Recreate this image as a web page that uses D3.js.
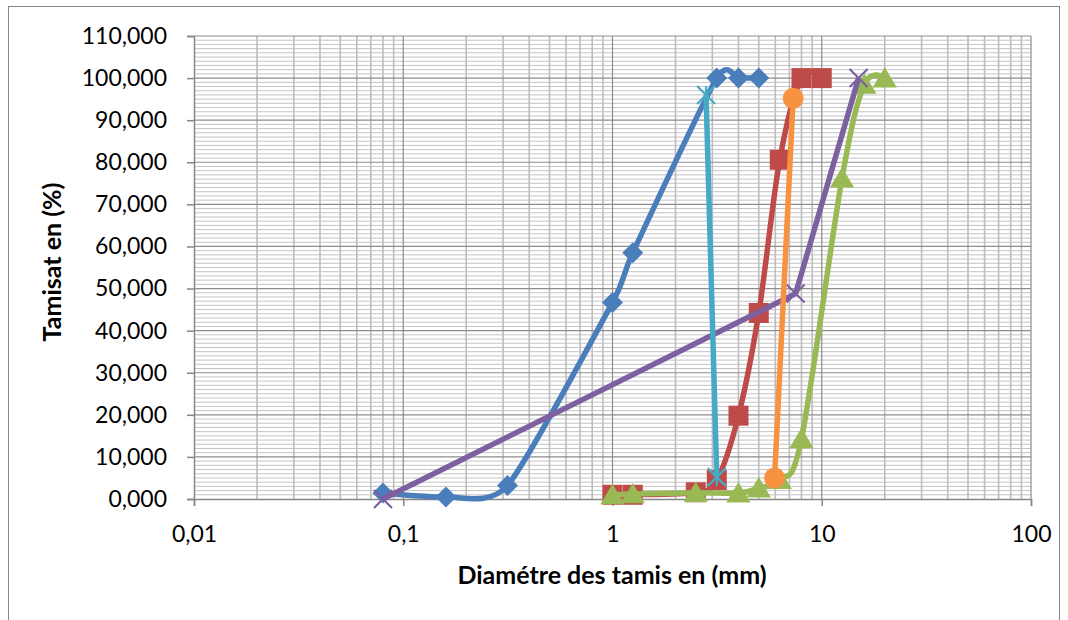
<!doctype html>
<html>
<head>
<meta charset="utf-8">
<title>Courbes granulométriques</title>
<style>
  body { margin: 0; background: #fff; }
  text { font-family: Lato, "Open Sans", sans-serif; fill: #000; }
  .axis-title { font-size: 25px; font-weight: bold; }
</style>
</head>
<body>
<div id="chart"></div>
<script src="https://d3js.org/d3.v7.min.js"></script>
<script>
// sieve sizes (mm) and passing (%) for each curve
var blueX = [0.08, 0.16, 0.315, 1, 1.25, 3.15, 4, 5];
var blueY = [1.4, 0.5, 3.2, 46.7, 58.5, 100, 100, 100];

var redX = [1, 1.25, 2.5, 3.15, 4, 5, 6.3, 8, 10];
var redY = [1.0, 1.0, 1.6, 4.5, 19.8, 44.2, 80.6, 100, 100];

var greenX = [1, 1.25, 2.5, 4, 5, 6.3, 8, 12.5, 16, 20];
var greenY = [1.0, 1.2, 1.5, 1.4, 2.6, 4.6, 14.3, 76.2, 98.5, 100];

var purpleX = [0.08, 7.5, 15];
var purpleY = [0, 48.8, 100];

var cyanX = [2.8, 3.15];
var cyanY = [96, 5.2];

var orangeX = [5.95, 7.3];
var orangeY = [5, 95.2];

var xTicks = [0.01, 0.1, 1, 10, 100];
var xTickLabels = ["0,01", "0,1", "1", "10", "100"];
var yTicks = d3.range(0, 111, 10);

var width = 1068, height = 620;
var plot = { left: 194, right: 1031, top: 36, bottom: 499 };

var x = d3.scaleLog().domain([0.01, 100]).range([plot.left, plot.right]);
var y = d3.scaleLinear().domain([0, 110]).range([plot.bottom, plot.top]);

var svg = d3.select("#chart").append("svg")
    .attr("width", width)
    .attr("height", height);

// chart border
svg.append("rect")
    .attr("x", 8.5).attr("y", 6.5)
    .attr("width", 1051).attr("height", 640)
    .attr("fill", "none")
    .attr("stroke", "#868686")
    .attr("stroke-width", 1);

// minor gridlines
var minorY = d3.range(1, 110).filter(function (v) { return v % 10 !== 0; });
svg.append("g").selectAll("line").data(minorY).enter().append("line")
    .attr("x1", plot.left).attr("x2", plot.right)
    .attr("y1", function (d) { return y(d); })
    .attr("y2", function (d) { return y(d); })
    .attr("stroke", "#c4c4c4").attr("stroke-width", 1);

var minorX = [];
[0.01, 0.1, 1, 10].forEach(function (dec) {
    for (var k = 2; k <= 9; k++) minorX.push(dec * k);
});
svg.append("g").selectAll("line").data(minorX).enter().append("line")
    .attr("x1", function (d) { return x(d); })
    .attr("x2", function (d) { return x(d); })
    .attr("y1", plot.top).attr("y2", plot.bottom)
    .attr("stroke", "#bdbdbd").attr("stroke-width", 1.6);

// major gridlines
svg.append("g").selectAll("line").data(yTicks.slice(1)).enter().append("line")
    .attr("x1", plot.left).attr("x2", plot.right)
    .attr("y1", function (d) { return y(d); })
    .attr("y2", function (d) { return y(d); })
    .attr("stroke", "#8c8c8c").attr("stroke-width", 1.2);

svg.append("g").selectAll("line").data(xTicks.slice(1)).enter().append("line")
    .attr("x1", function (d) { return x(d); })
    .attr("x2", function (d) { return x(d); })
    .attr("y1", plot.top).attr("y2", plot.bottom)
    .attr("stroke", "#8c8c8c").attr("stroke-width", 1.2);

// axes
var yAxis = svg.append("g")
    .attr("transform", "translate(" + plot.left + ",0)")
    .call(d3.axisLeft(y).tickValues(yTicks).tickSize(7).tickPadding(20)
        .tickFormat(function (d) { return d3.format(".3f")(d).replace(".", ","); }));
var xAxis = svg.append("g")
    .attr("transform", "translate(0," + plot.bottom + ")")
    .call(d3.axisBottom(x).tickValues(xTicks).tickSize(7).tickPadding(20)
        .tickFormat(function (d, i) { return xTickLabels[i]; }));

[yAxis, xAxis].forEach(function (ax) {
    ax.select(".domain").attr("stroke", "#868686").attr("stroke-width", 1.5);
    ax.selectAll(".tick line").attr("stroke", "#868686").attr("stroke-width", 1.5);
    ax.selectAll(".tick text").attr("fill", "#000")
        .style("font-size", "23px").style("font-family", "Lato, sans-serif");
});

// axis titles
svg.append("text")
    .attr("class", "axis-title")
    .attr("x", 612).attr("y", 584)
    .attr("text-anchor", "middle")
    .text("Diamétre des tamis en (mm)");

svg.append("text")
    .attr("class", "axis-title")
    .attr("transform", "translate(61,262) rotate(-90)")
    .attr("text-anchor", "middle")
    .text("Tamisat en (%)");

// marker shapes
var diamond = {
    draw: function (ctx, s) {
        ctx.moveTo(0, -s); ctx.lineTo(s, 0); ctx.lineTo(0, s); ctx.lineTo(-s, 0); ctx.closePath();
    }
};
var square = {
    draw: function (ctx, s) { ctx.rect(-s, -s, 2 * s, 2 * s); }
};
var triangle = {
    draw: function (ctx, s) {
        ctx.moveTo(0, -s); ctx.lineTo(s * 1.1, s * 0.85); ctx.lineTo(-s * 1.1, s * 0.85); ctx.closePath();
    }
};
var cross = {
    draw: function (ctx, s) {
        ctx.moveTo(-s, -s); ctx.lineTo(s, s); ctx.moveTo(s, -s); ctx.lineTo(-s, s);
    }
};
var star = {
    draw: function (ctx, s) {
        ctx.moveTo(-s, -s); ctx.lineTo(s, s); ctx.moveTo(s, -s); ctx.lineTo(-s, s);
        ctx.moveTo(0, -s); ctx.lineTo(0, s);
    }
};
var circle = {
    draw: function (ctx, s) { ctx.moveTo(s, 0); ctx.arc(0, 0, s, 0, 2 * Math.PI); }
};

var smooth = d3.curveCardinal.tension(0);
var series = [
    { xs: blueX, ys: blueY, color: "#4A7EBB", shape: diamond, size: 10.5, filled: true, curve: d3.curveCardinal.tension(0.35) },
    { xs: redX, ys: redY, color: "#BE4B48", shape: square, size: 10, filled: true, curve: smooth },
    { xs: greenX, ys: greenY, color: "#98B954", shape: triangle, size: 11, filled: true, curve: smooth },
    { xs: purpleX, ys: purpleY, color: "#7D60A0", shape: cross, size: 9, filled: false, curve: d3.curveLinear },
    { xs: cyanX, ys: cyanY, color: "#46AAC5", shape: star, size: 9, filled: false, curve: d3.curveLinear },
    { xs: orangeX, ys: orangeY, color: "#F69240", shape: circle, size: 10.5, filled: true, curve: d3.curveLinear }
];

series.forEach(function (s) {
    var pts = s.xs.map(function (v, i) { return [v, s.ys[i]]; });
    var line = d3.line()
        .x(function (d) { return x(d[0]); })
        .y(function (d) { return y(d[1]); })
        .curve(s.curve);
    var g = svg.append("g");
    g.append("path")
        .datum(pts)
        .attr("d", line)
        .attr("fill", "none")
        .attr("stroke", s.color)
        .attr("stroke-width", 5.5)
        .attr("stroke-linejoin", "round");
    g.selectAll(".m").data(pts).enter().append("path")
        .attr("transform", function (d) { return "translate(" + x(d[0]) + "," + y(d[1]) + ")"; })
        .attr("d", d3.symbol().type(s.shape).size(s.size))
        .attr("fill", s.filled ? s.color : "none")
        .attr("stroke", s.color)
        .attr("stroke-width", s.filled ? 0 : 2.2);
});
</script>
</body>
</html>
